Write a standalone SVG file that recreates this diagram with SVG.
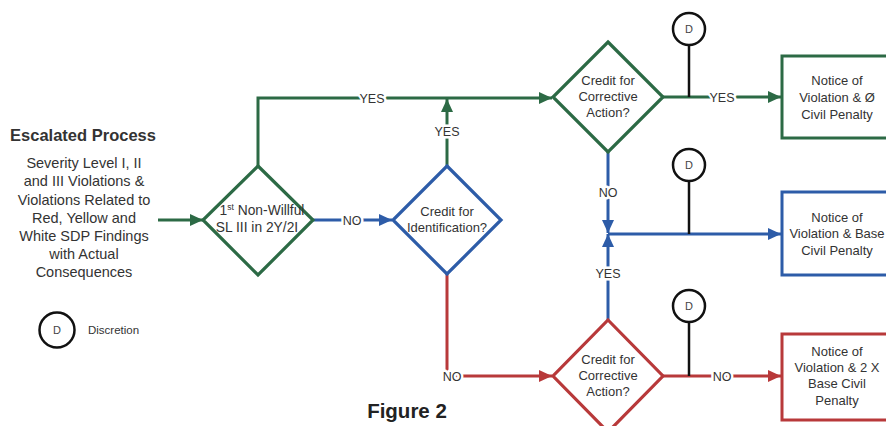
<svg xmlns="http://www.w3.org/2000/svg" width="886" height="426" viewBox="0 0 886 426">
<defs>
<style>
text{font-family:"Liberation Sans",Arial,sans-serif;fill:#333;text-anchor:middle}
.g{stroke:#2c6a45;fill:none;stroke-width:3}
.b{stroke:#2d5ca8;fill:none;stroke-width:3}
.r{stroke:#b8393a;fill:none;stroke-width:3}
.k{stroke:#111;fill:none;stroke-width:2.5}
.dia{fill:#fff;stroke-width:3.2}
.box{fill:#fff;stroke-width:3}
.nt{font-size:13px}
.it{font-size:14.5px}
.lbl{font-size:12.5px;stroke:#fff;stroke-width:5;paint-order:stroke;stroke-linejoin:round}
.dc{fill:#fff;stroke:#111;stroke-width:2.5}
.dt{font-size:11px;fill:#444}
</style>
<marker id="ag" viewBox="0 0 13 12" refX="13" refY="6" markerWidth="13" markerHeight="12" markerUnits="userSpaceOnUse" orient="auto"><path d="M0,0 L13,6 L0,12 Z" fill="#2c6a45"/></marker>
<marker id="ab" viewBox="0 0 13 12" refX="13" refY="6" markerWidth="13" markerHeight="12" markerUnits="userSpaceOnUse" orient="auto"><path d="M0,0 L13,6 L0,12 Z" fill="#2d5ca8"/></marker>
<marker id="ar" viewBox="0 0 13 12" refX="13" refY="6" markerWidth="13" markerHeight="12" markerUnits="userSpaceOnUse" orient="auto"><path d="M0,0 L13,6 L0,12 Z" fill="#b8393a"/></marker>
</defs>
<rect width="886" height="426" fill="#fff"/>

<g id="intro">
<text x="83" y="141" style="font-size:16.5px;font-weight:bold">Escalated Process</text>
<text class="it" x="84" y="168">Severity Level I, II</text>
<text class="it" x="84" y="186">and III Violations &amp;</text>
<text class="it" x="84" y="205">Violations Related to</text>
<text class="it" x="84" y="223">Red, Yellow and</text>
<text class="it" x="84" y="241">White SDP Findings</text>
<text class="it" x="84" y="259">with Actual</text>
<text class="it" x="84" y="277">Consequences</text>
</g>

<g id="legend">
<circle class="dc" cx="57" cy="330" r="17.5"/>
<text class="dt" x="57" y="334">D</text>
<text x="88" y="334" style="font-size:11.5px;text-anchor:start">Discretion</text>
</g>

<g id="caption">
<text x="407" y="418" style="font-size:20.5px;font-weight:bold;fill:#222">Figure 2</text>
</g>

<g id="connectors">
<path class="g" d="M158 220 H203" marker-end="url(#ag)"/>
<path class="g" d="M258 166 V98 H552" marker-end="url(#ag)"/>
<path class="g" d="M447 166 V99" marker-end="url(#ag)"/>
<path class="g" d="M663 97 H781" marker-end="url(#ag)"/>
<path class="b" d="M313 220 H392" marker-end="url(#ab)"/>
<path class="b" d="M608 152 V233" marker-end="url(#ab)"/>
<path class="b" d="M608 320 V234" marker-end="url(#ab)"/>
<path class="b" d="M608 234 H781" marker-end="url(#ab)"/>
<path class="r" d="M447 273 V376 H552" marker-end="url(#ar)"/>
<path class="r" d="M663 376 H781" marker-end="url(#ar)"/>
<path class="k" d="M689 45 V97"/>
<path class="k" d="M689 181 V234"/>
<path class="k" d="M689 322 V376"/>
<text class="lbl" x="372" y="102.5">YES</text>
<text class="lbl" x="447" y="136">YES</text>
<text class="lbl" x="352" y="224.5">NO</text>
<text class="lbl" x="722" y="101.5">YES</text>
<text class="lbl" x="608" y="196.5">NO</text>
<text class="lbl" x="608" y="278">YES</text>
<text class="lbl" x="452" y="380.5">NO</text>
<text class="lbl" x="722" y="380.5">NO</text>
</g>

<g id="d1">
<path class="g dia" d="M258 166 L313 220 L258 275 L203 220 Z"/>
<text x="262" y="215" style="font-size:13.8px">1<tspan font-size="8.5" dy="-5">st</tspan><tspan dy="5"> Non-Willful</tspan></text>
<text x="257" y="232" style="font-size:13.8px">SL III in 2Y/2I</text>
</g>

<g id="d2">
<path class="b dia" d="M447 166 L501 220 L447 274 L393 220 Z"/>
<text class="nt" x="447" y="216">Credit for</text>
<text class="nt" x="447" y="232">Identification?</text>
</g>

<g id="d3">
<path class="g dia" d="M608 42 L663 97 L608 152 L553 97 Z"/>
<text class="nt" x="608" y="85">Credit for</text>
<text class="nt" x="608" y="101">Corrective</text>
<text class="nt" x="608" y="117">Action?</text>
</g>

<g id="d4">
<path class="r dia" d="M608 320 L663 376 L608 432 L553 376 Z"/>
<text class="nt" x="608" y="364">Credit for</text>
<text class="nt" x="608" y="380">Corrective</text>
<text class="nt" x="608" y="396">Action?</text>
</g>

<g id="disc1"><circle class="dc" cx="689" cy="29" r="16"/><text class="dt" x="689" y="33">D</text></g>
<g id="disc2"><circle class="dc" cx="689" cy="165" r="16"/><text class="dt" x="689" y="169">D</text></g>
<g id="disc3"><circle class="dc" cx="689" cy="306" r="16"/><text class="dt" x="689" y="310">D</text></g>

<g id="box1">
<rect class="g box" x="782" y="56" width="120" height="82"/>
<text class="nt" x="837" y="84.5">Notice of</text>
<text class="nt" x="837" y="101.5">Violation &amp; Ø</text>
<text class="nt" x="837" y="118.5">Civil Penalty</text>
</g>
<g id="box2">
<rect class="b box" x="782" y="192" width="120" height="83"/>
<text class="nt" x="837" y="221.5">Notice of</text>
<text class="nt" x="837" y="237.5">Violation &amp; Base</text>
<text class="nt" x="837" y="254.5">Civil Penalty</text>
</g>
<g id="box3">
<rect class="r box" x="782" y="334" width="120" height="86"/>
<text class="nt" x="837" y="355.5">Notice of</text>
<text class="nt" x="837" y="371.5">Violation &amp; 2 X</text>
<text class="nt" x="837" y="387.5">Base Civil</text>
<text class="nt" x="837" y="404.5">Penalty</text>
</g>
</svg>
